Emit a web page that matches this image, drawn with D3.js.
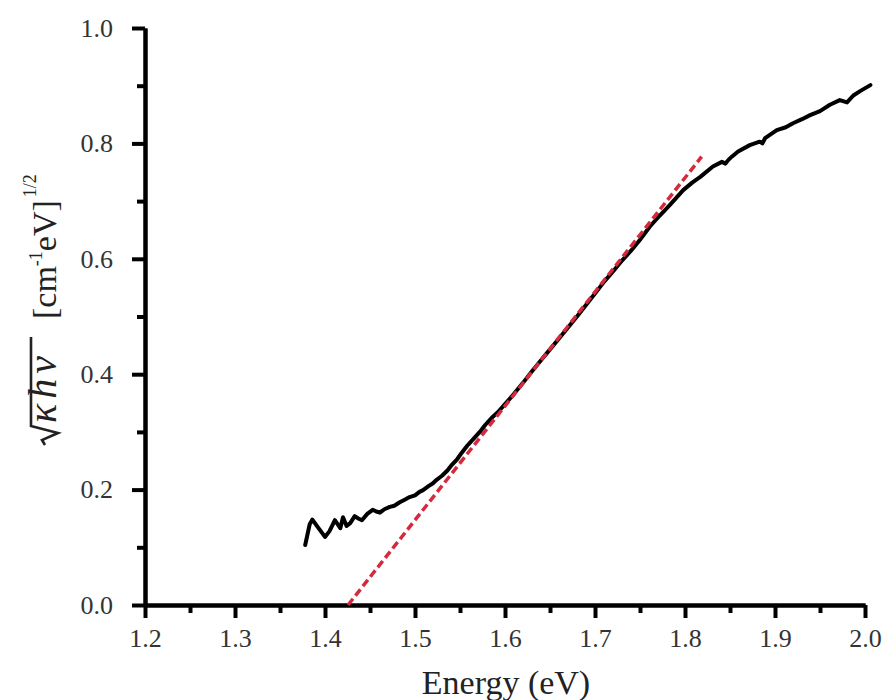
<!DOCTYPE html>
<html>
<head>
<meta charset="utf-8">
<script src="https://cdn.jsdelivr.net/npm/d3@7"></script>
<style>
  html, body { margin: 0; padding: 0; background: #fff; }
  svg { display: block; }
</style>
</head>
<body>
<svg id="chart" width="890" height="700"></svg>
<script>
// ---- Data ----
const energy = [1.378,1.383,1.386,1.392,1.400,1.405,1.411,1.417,1.420,1.424,1.428,1.433,1.437,1.441,1.447,1.453,1.457,1.461,1.466,1.472,1.477,1.483,1.488,1.494,1.500,1.505,1.509,1.515,1.520,1.524,1.530,1.536,1.541,1.547,1.552,1.558,1.565,1.572,1.578,1.585,1.592,1.600,1.610,1.620,1.630,1.640,1.650,1.660,1.670,1.680,1.690,1.700,1.710,1.720,1.730,1.740,1.750,1.761,1.772,1.783,1.798,1.808,1.817,1.831,1.841,1.845,1.848,1.852,1.859,1.872,1.883,1.886,1.889,1.902,1.912,1.920,1.930,1.939,1.950,1.961,1.972,1.980,1.987,1.995,2.006];
const sqrtKhv = [0.104,0.140,0.148,0.135,0.118,0.128,0.147,0.133,0.152,0.137,0.142,0.154,0.150,0.147,0.158,0.165,0.162,0.160,0.166,0.170,0.172,0.178,0.182,0.187,0.190,0.196,0.199,0.206,0.211,0.217,0.224,0.233,0.243,0.253,0.264,0.276,0.288,0.300,0.312,0.324,0.334,0.348,0.366,0.385,0.405,0.424,0.443,0.462,0.481,0.500,0.520,0.540,0.560,0.578,0.597,0.614,0.633,0.656,0.675,0.693,0.719,0.732,0.742,0.760,0.768,0.765,0.771,0.777,0.786,0.797,0.803,0.800,0.809,0.823,0.828,0.835,0.842,0.849,0.856,0.867,0.875,0.871,0.883,0.891,0.901];
const fitEnergy = [1.4256, 1.8185];
const fitValue = [0.0, 0.777];
const xTicks = [1.2,1.3,1.4,1.5,1.6,1.7,1.8,1.9,2.0];
const xMinorTicks = [1.25,1.35,1.45,1.55,1.65,1.75,1.85,1.95];
const yTicks = [0.0,0.2,0.4,0.6,0.8,1.0];
const yMinorTicks = [0.1,0.3,0.5,0.7,0.9];

// ---- Layout ----
const FONT = "'Liberation Serif', 'Times New Roman', Times, serif";
const svg = d3.select("#chart");
const x = d3.scaleLinear().domain([1.2, 2.0]).range([145, 865]);
const y = d3.scaleLinear().domain([0, 1.0]).range([605, 28]);
const fs = 26;

function styleAxis(g) {
  g.attr("font-family", FONT).attr("font-size", fs);
  g.select(".domain").attr("stroke", "#000").attr("stroke-width", 4);
  g.selectAll(".tick line").attr("stroke", "#000").attr("stroke-width", 4);
  g.selectAll(".tick text").attr("fill", "#333").attr("font-family", FONT).attr("font-size", fs);
}

// minor ticks
svg.append("g").attr("transform", "translate(0,605)")
  .call(d3.axisBottom(x).tickValues(xMinorTicks).tickSize(8).tickSizeOuter(0).tickFormat(""))
  .call(styleAxis);
svg.append("g").attr("transform", "translate(145,0)")
  .call(d3.axisLeft(y).tickValues(yMinorTicks).tickSize(8).tickSizeOuter(0).tickFormat(""))
  .call(styleAxis);

// major ticks
svg.append("g").attr("transform", "translate(0,605)")
  .call(d3.axisBottom(x).tickValues(xTicks).tickSize(13).tickSizeOuter(0).tickPadding(11).tickFormat(d3.format(".1f")))
  .call(styleAxis);
svg.append("g").attr("transform", "translate(145,0)")
  .call(d3.axisLeft(y).tickValues(yTicks).tickSize(13).tickSizeOuter(0).tickPadding(19).tickFormat(d3.format(".1f")))
  .call(styleAxis);

// data curve
const pts = energy.map((e, i) => [e, sqrtKhv[i]]);
svg.append("path")
  .datum(pts)
  .attr("fill", "none")
  .attr("stroke", "#000")
  .attr("stroke-width", 4)
  .attr("stroke-linejoin", "round")
  .attr("stroke-linecap", "round")
  .attr("d", d3.line().x(d => x(d[0])).y(d => y(d[1])));

// linear fit
const fitPts = fitEnergy.map((e, i) => [e, fitValue[i]]);
svg.append("path")
  .datum(fitPts)
  .attr("fill", "none")
  .attr("stroke", "#d42a3e")
  .attr("stroke-width", 3.5)
  .attr("stroke-dasharray", "8,4")
  .attr("d", d3.line().x(d => x(d[0])).y(d => y(d[1])));

// x label
svg.append("text")
  .attr("x", 506).attr("y", 694)
  .attr("text-anchor", "middle")
  .attr("font-family", FONT)
  .attr("font-size", 34)
  .attr("fill", "#222")
  .text("Energy (eV)");

// y label (rotated)
const yl = svg.append("g").attr("transform", "translate(56,445) rotate(-90)");
// radical sign
yl.append("path")
  .attr("d", "M0,-11 L5,-14 L12,2 L19,-25 L108,-25")
  .attr("fill", "none")
  .attr("stroke", "#222")
  .attr("stroke-width", 2.6)
  .attr("stroke-linejoin", "miter");
yl.append("text")
  .attr("x", 22).attr("y", 0)
  .attr("font-family", FONT)
  .attr("font-style", "italic")
  .attr("font-size", 40)
  .attr("letter-spacing", 5)
  .attr("fill", "#222")
  .text("κhν");
const br = yl.append("text")
  .attr("x", 126).attr("y", 0)
  .attr("font-family", FONT)
  .attr("font-size", 34)
  .attr("fill", "#222");
br.append("tspan").text("[cm");
br.append("tspan").attr("font-size", 18).attr("dy", -14).text("-1");
br.append("tspan").attr("dy", 14).text("eV]");
br.append("tspan").attr("font-size", 18).attr("dy", -20).attr("dx", 3).text("1/2");
</script>
</body>
</html>
